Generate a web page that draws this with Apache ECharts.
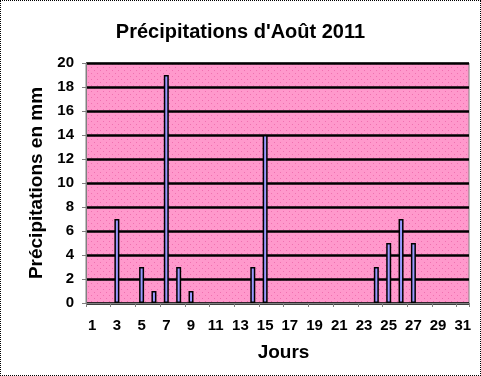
<!DOCTYPE html>
<html>
<head>
<meta charset="utf-8">
<script src="https://cdn.jsdelivr.net/npm/echarts@6/dist/echarts.min.js"></script>
<style>
  html, body { margin: 0; padding: 0; background: #fff; }
  #chart { position: absolute; left: 0; top: 0; width: 479px; height: 374px; border: 1px dotted #000; }
</style>
</head>
<body>
<div id="chart"></div>
<script>
  // jours du mois d'août
  const days = [];
  for (let d = 1; d <= 31; d++) days.push(String(d));

  // précipitations en mm, une valeur par jour
  const rain = [0, 0, 7, 0, 3, 1, 19, 3, 1, 0,
                0, 0, 0, 3, 14, 0, 0, 0, 0, 0,
                0, 0, 0, 3, 5, 7, 5, 0, 0, 0, 0];

  const chart = echarts.init(document.getElementById('chart'));

  // petit motif pointillé pour le fond du graphique
  const tile = document.createElement('canvas');
  tile.width = 6; tile.height = 6;
  const ctx = tile.getContext('2d');
  ctx.fillStyle = '#ff99cc';
  ctx.fillRect(0, 0, 6, 6);
  ctx.fillStyle = '#f070b0';
  ctx.fillRect(0, 0, 1, 1);
  ctx.fillRect(3, 3, 1, 1);

  // pas de contour pour les jours sans pluie
  const barData = rain.map(v => v > 0 ? v : { value: v, itemStyle: { borderWidth: 0 } });

  chart.setOption({
    animation: false,
    textStyle: { fontFamily: 'Liberation Sans, Arial, sans-serif' },
    title: {
      text: "Précipitations d'Août 2011",
      left: 'center',
      top: 16,
      textStyle: { color: '#000', fontWeight: 'bold', fontSize: 20 }
    },
    grid: {
      left: 85,
      right: 11,
      top: 62,
      bottom: 72,
      show: true,
      backgroundColor: { image: tile, repeat: 'repeat' },
      borderColor: '#808080',
      borderWidth: 1
    },
    xAxis: {
      type: 'category',
      data: days,
      name: 'Jours',
      nameLocation: 'middle',
      nameGap: 40,
      nameTextStyle: { color: '#000', fontWeight: 'bold', fontSize: 19, padding: [0, 0, 0, 12] },
      axisLine: { lineStyle: { color: '#808080', width: 1 } },
      axisTick: { show: true, length: 4, lineStyle: { color: '#808080' } },
      axisLabel: { interval: 1, color: '#000', fontWeight: 'bold', fontSize: 15, margin: 15 },
      splitLine: { show: false }
    },
    yAxis: {
      type: 'value',
      min: 0,
      max: 20,
      interval: 2,
      name: 'Précipitations en mm',
      nameLocation: 'middle',
      nameGap: 35,
      nameTextStyle: { color: '#000', fontWeight: 'bold', fontSize: 19 },
      axisLine: { show: true, lineStyle: { color: '#808080', width: 1 } },
      axisTick: { show: true, length: 4, lineStyle: { color: '#808080' } },
      axisLabel: { color: '#000', fontWeight: 'bold', fontSize: 15, margin: 12 },
      splitLine: { show: true, lineStyle: { color: '#000', width: 2.5 } }
    },
    series: [{
      type: 'bar',
      data: barData,
      barWidth: 5,
      itemStyle: { color: '#9999ff', borderColor: '#000', borderWidth: 1.5 }
    }]
  });
</script>
</body>
</html>
